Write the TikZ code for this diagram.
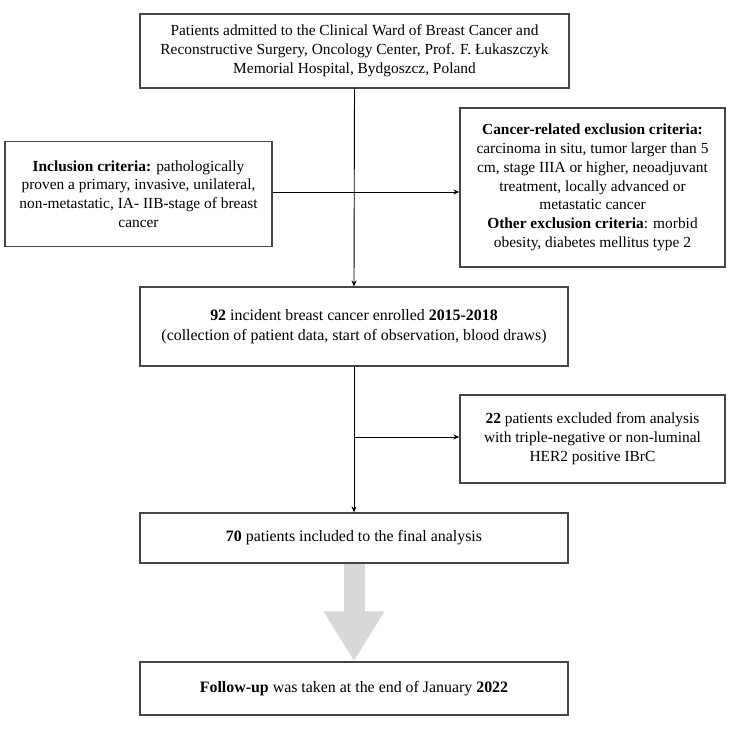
\documentclass[tikz,border=0pt]{standalone}
\usepackage{fontspec}
\setmainfont{Liberation Serif}
\usetikzlibrary{arrows.meta}
\definecolor{boxline}{HTML}{454545}
\definecolor{bigarrow}{HTML}{D8D8D8}

\begin{document}
\begin{tikzpicture}[x=1pt,y=-1pt,
    box/.style={draw=boxline,line width=1.2pt,fill=white,inner sep=0pt,align=center,
        font=\fontsize{15.4}{18.8}\selectfont},
    bigbox/.style={box,font=\fontsize{15.9}{20}\selectfont},
    link/.style={line width=0.9pt,-{Stealth[length=6pt,width=5pt]}},
    bigarr/.style={bigarrow,line width=21pt,-{Triangle[length=50pt,width=57pt]}}]
    \useasboundingbox (0,0) rectangle (734,730);
    \node[box,minimum width=429pt,minimum height=74pt] (admit) at (354.5,51)
    {Patients admitted to the Clinical Ward of Breast Cancer and\\
     Reconstructive Surgery, Oncology Center, Prof. F. Łukaszczyk\\
     Memorial Hospital, Bydgoszcz, Poland};
    \node[box,minimum width=267pt,minimum height=105pt] (incl) at (138.5,194)
    {\textbf{Inclusion criteria:} pathologically\\
     proven a primary, invasive, unilateral,\\
     non-metastatic, IA- IIB-stage of breast\\
     cancer};
    \node[box,minimum width=265pt,minimum height=159pt] (excl) at (592.5,187.5)
    {\textbf{Cancer-related exclusion criteria:}\\
     carcinoma in situ, tumor larger than 5\\
     cm, stage IIIA or higher, neoadjuvant\\
     treatment, locally advanced or\\
     metastatic cancer\\
     \textbf{Other exclusion criteria}: morbid\\
     obesity, diabetes mellitus type 2};
    \node[bigbox,minimum width=428pt,minimum height=79pt] (enrol) at (354,326.5)
    {\textbf{92} incident breast cancer enrolled \textbf{2015-2018}\\
     (collection of patient data, start of observation, blood draws)};
    \node[box,minimum width=265pt,minimum height=88pt] (excl22) at (592.5,439)
    {\textbf{22} patients excluded from analysis\\
     with triple-negative or non-luminal\\
     HER2 positive IBrC};
    \node[bigbox,minimum width=428pt,minimum height=50pt] (final) at (354,538)
    {\textbf{70} patients included to the final analysis};
    \node[bigbox,minimum width=428pt,minimum height=53pt] (follow) at (354,688.5)
    {\textbf{Follow-up} was taken at the end of January \textbf{2022}};
    \coordinate (split1) at (354,192);
    \coordinate (split2) at (354,437);
    \draw[link] (admit.south) -- (enrol.north);
    \draw[link] (incl.east |- split1) -- (excl.west |- split1);
    \draw[link] (enrol.south) -- (final.north);
    \draw[link] (split2) -- (excl22.west |- split2);
    \draw[bigarr] (final.south) -- (follow.north);
\end{tikzpicture}
\end{document}
